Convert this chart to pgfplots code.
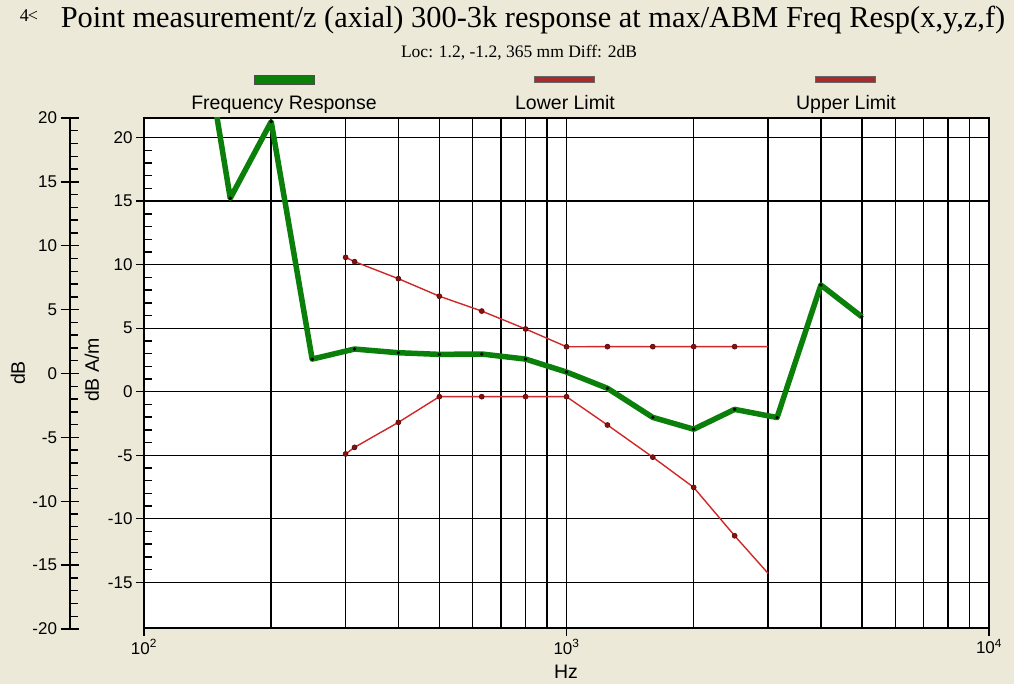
\documentclass[border=0pt]{standalone}
\usepackage{fontspec}
\setmainfont{Liberation Sans}
\newfontfamily\seriffont{Liberation Serif}
\usepackage{pgfplots}
\usepackage{pgfplotstable}
\pgfplotsset{compat=1.18}
\definecolor{bgc}{HTML}{ECE9D8}
\definecolor{frgreen}{HTML}{0A800A}
\definecolor{limred}{HTML}{D02828}
\definecolor{mkred}{HTML}{8A1010}
\definecolor{legred}{HTML}{A82A2A}

\pgfplotstableread{
f v
125 37
160 15.23
200 21.26
250 2.57
315 3.36
400 3.07
500 2.94
630 2.97
800 2.57
1000 1.55
1250 0.27
1600 -2.02
2000 -2.95
2500 -1.39
3150 -2.03
4000 8.4
5000 5.9
}\freqresp

\pgfplotstableread{
f v
300 10.58
315 10.24
400 8.9
500 7.52
630 6.35
800 4.94
1000 3.54
1250 3.55
1600 3.55
2000 3.55
2500 3.55
3000 3.55
}\upperlim

\pgfplotstableread{
f v
300 -4.9
315 -4.38
400 -2.41
500 -0.39
630 -0.39
800 -0.39
1000 -0.39
1250 -2.62
1600 -5.15
2000 -7.53
2500 -11.34
3000 -14.3
}\lowerlim

\newcommand{\tfont}{\fontsize{17}{17}\selectfont}
\newcommand{\lfont}{\fontsize{19.5}{19.5}\selectfont}

\begin{document}
\begin{tikzpicture}[x=1pt,y=1pt]
\fill[bgc] (0,0) rectangle (1014,684);
\useasboundingbox (0,0) rectangle (1014,684);

% title and subtitle
\node[anchor=base] at (533,656) {\seriffont\fontsize{30.4}{30.4}\selectfont Point measurement/z (axial) 300-3k response at max/ABM Freq Resp(x,y,z,f)};
\node[anchor=base] at (29,662) {\seriffont\fontsize{18}{18}\selectfont 4\kern-1pt<};
\node[anchor=base] at (519,626) {\seriffont\fontsize{17.5}{17.5}\selectfont Loc: 1.2, -1.2, 365 mm Diff: 2dB};

% legend
\filldraw[fill=frgreen, draw=black!70, line width=0.8pt] (254,600) rectangle (314,608.3);
\node[anchor=base] at (284,574) {\lfont Frequency Response};
\filldraw[fill=legred, draw=black!60, line width=0.8pt] (534,601.7) rectangle (594,607.3);
\node[anchor=base] at (565,574) {\lfont Lower Limit};
\filldraw[fill=legred, draw=black!60, line width=0.8pt] (815,601.7) rectangle (875,607.3);
\node[anchor=base] at (846,574) {\lfont Upper Limit};

% axis labels
\node[rotate=90] at (18,311) {\lfont dB};
\node[rotate=90] at (92,314) {\lfont dB A/m};
\node at (566,12) {\lfont Hz};

% outer dB axis: labels and centered major ticks
\begin{axis}[
  at={(70pt,55pt)}, anchor=south west,
  scale only axis, width=1pt, height=511pt,
  xmin=0, xmax=1, ymin=-20, ymax=20,
  axis y line=left, hide x axis,
  axis line style={line width=1.4pt, -},
  ytick={-20,-15,...,20},
  tick align=center, major tick length=19pt,
  tick style={line width=1.4pt, black},
  /pgf/number format/assume math mode=true,
  yticklabel style={font=\tfont},
]
\end{axis}
% outer dB axis: minor ticks inside
\begin{axis}[
  at={(70pt,55pt)}, anchor=south west,
  scale only axis, width=1pt, height=511pt,
  xmin=0, xmax=1, ymin=-20, ymax=20,
  axis y line=left, hide x axis,
  axis line style={line width=1.4pt, -},
  ytick={-20,-15,...,20}, yticklabels={},
  minor y tick num=4,
  tick align=inside, major tick length=0pt, minor tick length=8pt,
  tick style={line width=1.4pt, black},
]
\end{axis}

% main axis
\begin{axis}[
  at={(144pt,56pt)}, anchor=south west,
  scale only axis, width=845pt, height=510pt,
  xmode=log, xmin=100, xmax=10000,
  ymin=-18.6, ymax=21.55,
  axis background/.style={fill=white},
  axis line style={line width=1.5pt},
  xtick={100,1000,10000},
  xticklabels={10\textsuperscript{2},10\textsuperscript{3},10\textsuperscript{4}},
  minor xtick={200,300,400,500,600,700,800,900,2000,3000,4000,5000,6000,7000,8000,9000},
  ytick={-15,-10,...,20},
  xmajorgrids, xminorgrids, ymajorgrids,
  grid style={black, line width=1.4pt},
  minor grid style={black, line width=1.4pt},
  tick align=outside, major tick length=8pt, minor tick length=0pt,
  tick style={line width=1.4pt, black},
  xtick pos=bottom, ytick pos=left,
  /pgf/number format/assume math mode=true,
  tick label style={font=\tfont},
  clip=true,
]
\addplot[limred, line width=1.4pt, mark=*, mark size=2.5pt,
  mark indices={1,2,3,4,5,6,7,8,9,10,11},
  mark options={fill=mkred, draw=mkred!60!black, line width=0.6pt}]
  table[x=f, y=v] {\upperlim};
\addplot[limred, line width=1.4pt, mark=*, mark size=2.5pt,
  mark indices={1,2,3,4,5,6,7,8,9,10,11},
  mark options={fill=mkred, draw=mkred!60!black, line width=0.6pt}]
  table[x=f, y=v] {\lowerlim};
\addplot[frgreen, line width=5.5pt, line join=round, mark=*, mark size=1.6pt,
  mark options={fill=black, draw=black, line width=0.3pt}]
  table[x=f, y=v] {\freqresp};
\end{axis}

% main axis: minor y ticks inside
\begin{axis}[
  at={(144pt,56pt)}, anchor=south west,
  scale only axis, width=845pt, height=510pt,
  xmin=0, xmax=1, ymin=-18.6, ymax=21.55,
  axis y line=left, hide x axis,
  axis line style={line width=1.5pt, -},
  ytick={-15,-10,...,20}, yticklabels={},
  minor y tick num=4,
  tick align=inside, major tick length=0pt, minor tick length=8pt,
  tick style={line width=1.4pt, black},
]
\end{axis}
\end{tikzpicture}
\end{document}
